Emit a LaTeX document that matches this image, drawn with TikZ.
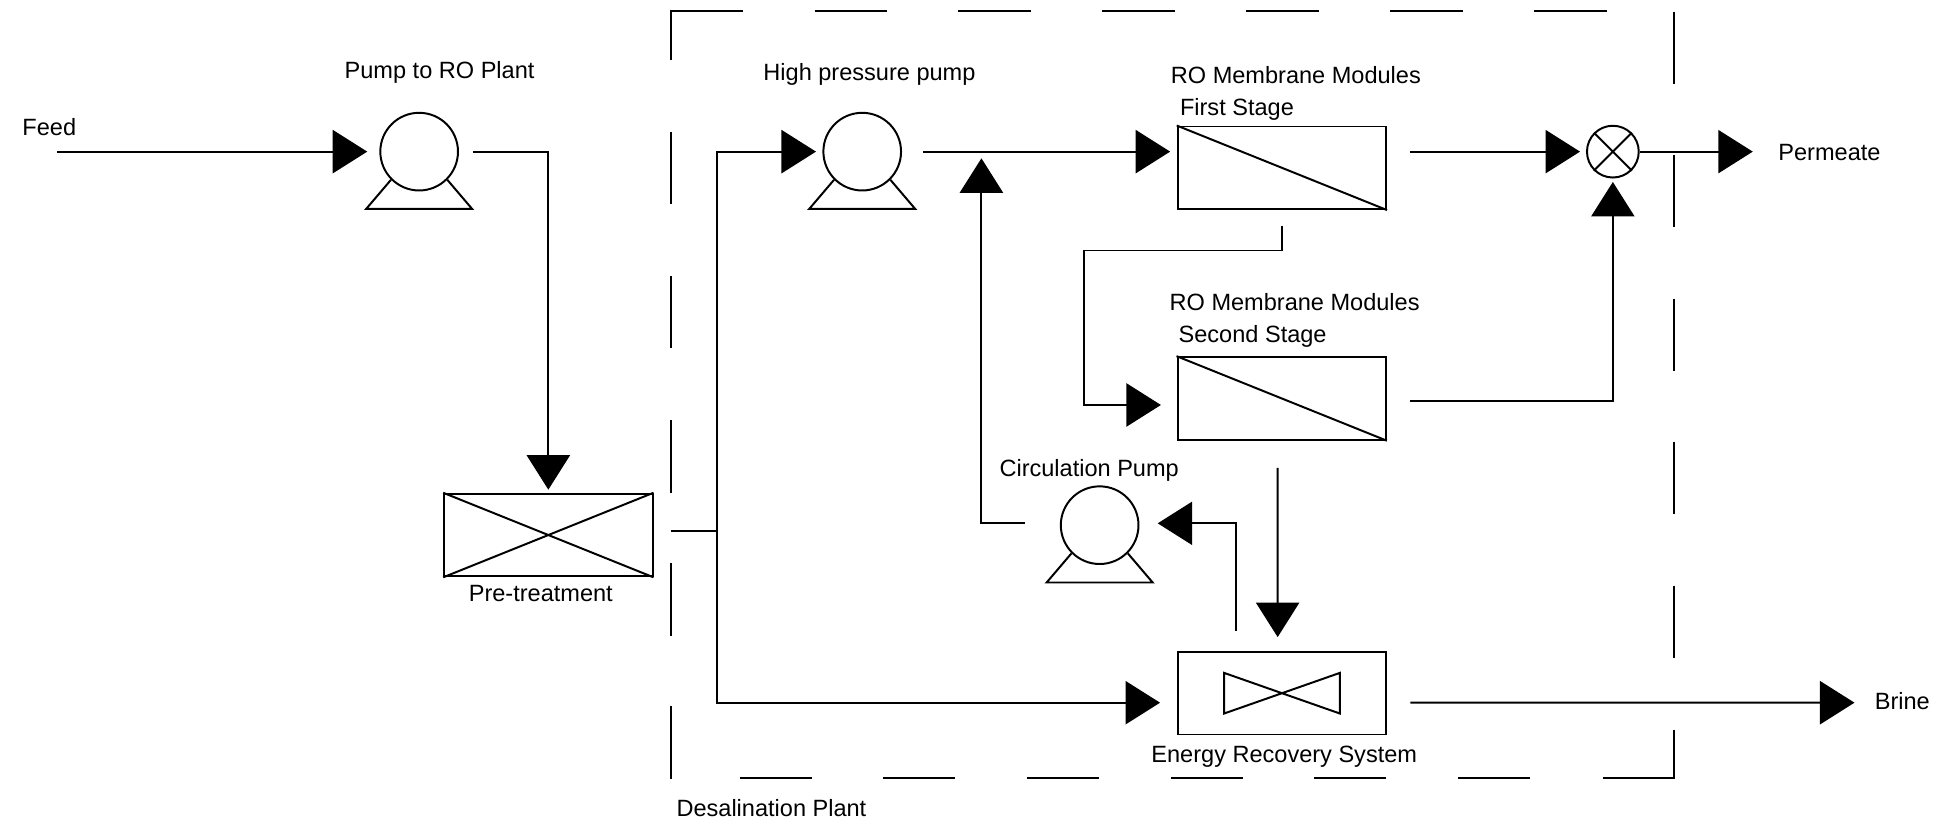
\documentclass[tikz,border=0pt]{standalone}
\usepackage{fontspec}
\setmainfont{Liberation Sans}
\usetikzlibrary{arrows.meta,calc}
\begin{document}
\begin{tikzpicture}[x=0.5pt,y=-0.5pt,
  line width=0.8pt,
  flow/.style={-{Triangle[length=14pt,width=17.5pt]}},
  pumpc/.style={circle,draw,minimum size=31.5pt,inner sep=0pt},
  unitbox/.style={rectangle,draw,minimum width=84.5pt,minimum height=33.5pt,inner sep=0pt},
  lbl/.style={anchor=base west,inner sep=0pt,font=\fontsize{9.55pt}{11.5pt}\selectfont}]
\useasboundingbox (0,0) rectangle (1568,670);

% ---------- units ----------
\node[pumpc] (p1) at (340,123) {};
\node[pumpc] (hp) at (699.4,123) {};
\node[pumpc] (cp) at (892,426) {};
\node[circle,draw,minimum size=21pt,inner sep=0pt] (mix) at (1308.3,123) {};
\node[unitbox] (pre) at (444.8,434) {};
\node[unitbox] (ro1) at (1039.8,136.1) {};
\node[unitbox] (ro2) at (1039.7,323.2) {};
\node[unitbox] (ers) at (1039.9,562.3) {};

% pump bases
\foreach \p in {p1,hp,cp}
  \draw (\p.-135) -- ($(\p)+(-43,46.5)$) -- ($(\p)+(43,46.5)$) -- (\p.-45);
% symbols inside units
\draw (pre.north west) -- (pre.south east) (pre.south west) -- (pre.north east);
\draw (ro1.north west) -- (ro1.south east);
\draw (ro2.north west) -- (ro2.south east);
\draw (mix.45) -- (mix.225) (mix.135) -- (mix.-45);
\draw ($(ers)+(-47,-16.5)$) -- ($(ers)+(47,16.5)$) -- ($(ers)+(47,-16.5)$) -- ($(ers)+(-47,16.5)$) -- cycle;

% ---------- labels ----------
\node[lbl] (lfeed) at (17.4,110.3) {Feed};
\node[lbl] (lp1) at (278.8,63.5) {Pump to RO Plant};
\node[lbl] (lhp) at (618.5,64.9) {High pressure pump};
\node[lbl] (lro1a) at (949,68) {RO Membrane Modules};
\node[lbl] (lro1b) at (956.4,94) {First Stage};
\node[lbl] (lperm) at (1441.8,130) {Permeate};
\node[lbl] (lro2a) at (948,251.5) {RO Membrane Modules};
\node[lbl] (lro2b) at (955.3,278) {Second Stage};
\node[lbl] (lcp) at (810,386.7) {Circulation Pump};
\node[lbl] (lpre) at (379.5,488) {Pre-treatment};
\node[lbl] (lers) at (933.2,618.7) {Energy Recovery System};
\node[lbl] (lbrine) at (1520,575.4) {Brine};
\node[lbl] (ldes) at (548,662.5) {Desalination Plant};

% ---------- connectors ----------
\coordinate (feedin) at (46.4,123);
\coordinate (jn) at (581.8,430.5);
\coordinate (permout) at (1421.8,123);
\coordinate (brineout) at (1504.3,570);

\draw[flow] (feedin) -- ($(p1.west)+(-9.8,0)$);
\draw[flow] ($(p1.east)+(11.3,0)$) -| ($(pre.north)+(0,-2.5)$);
\draw ($(pre.east)+(14,-3.5)$) -- (jn);
\draw[flow] (jn) |- ($(hp.west)+(-5.2,0)$);
\draw[flow] (jn) |- ($(ers.west)+(-13.6,7.7)$);
\draw[flow] ($(hp.east)+(16.9,0)$) -- ($(ro1.west)+(-5.3,-13.1)$);
\draw[flow] ($(cp.west)+(-28.4,-1.5)$) -| ($(hp.east)+(64.4,5.4)$);
\draw[flow] ($(ro1.east)+(18.6,-13.1)$) -- ($(mix.west)+(-4.8,0)$);
\draw[flow] (mix.east) -- (permout);
\draw[flow] ($(ro1.south)+(0.5,13)$) |- ($(ro1.south)+(-160.7,32.8)$) |- ($(ro2.west)+(-12.7,5.3)$);
\draw[flow] ($(ro2.east)+(18.8,2.1)$) -| ($(mix.south)+(0,2.8)$);
\draw[flow] ($(ro2.south)+(-3.4,22)$) -- ($(ers.north)+(-3.5,-11.2)$);
\draw[flow] ($(ers.north)+(-37.6,-16)$) |- ($(cp.east)+(14.8,-1.5)$);
\draw[flow] ($(ers.east)+(18.8,7.7)$) -- (brineout);

% ---------- dashed plant boundary ----------
\draw (544,49) -- (544,9) -- (603,9);
\foreach \k in {1,...,6}
  \draw ({544+116.7*\k},9) -- ({603+116.7*\k},9);
\foreach \y in {107,224,341,457,573}
  \draw (544,\y) -- (544,\y+58.5);
\foreach \y in {9.5,125.9,242.3,358.7,475.1}
  \draw (1358,\y) -- (1358,\y+58.5);
\draw (1358,592) -- (1358,631) -- (1300,631);
\foreach \x in {600,716.5,833,949.5,1066,1182.5}
  \draw (\x,631) -- (\x+58.5,631);
\end{tikzpicture}
\end{document}
